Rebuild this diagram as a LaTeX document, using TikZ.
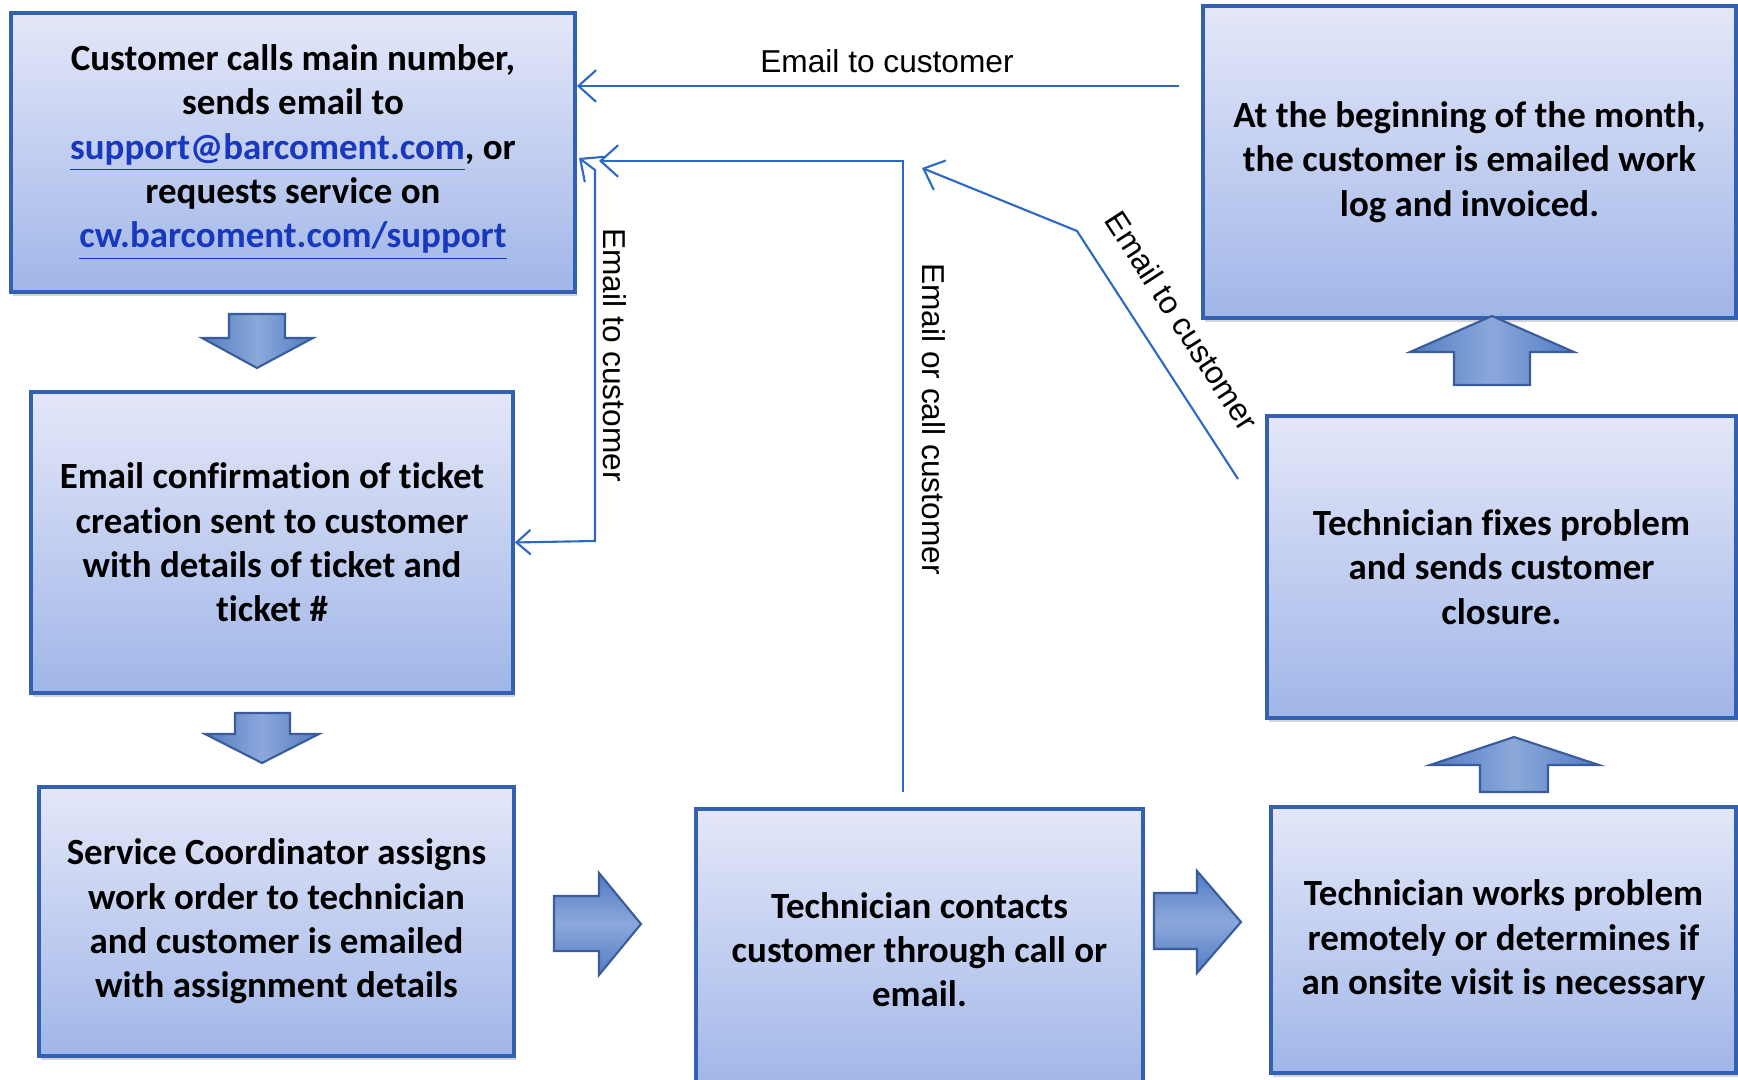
\documentclass[tikz,border=0pt]{standalone}
\usepackage{fontspec}
\setmainfont{Carlito}[RawFeature={-liga;-clig;-dlig;-calt}]
\newfontfamily\arial{Liberation Sans}
\usetikzlibrary{arrows.meta,shadows}
\definecolor{boxedge}{RGB}{52,96,178}
\definecolor{boxtop}{RGB}{228,231,248}
\definecolor{boxbottom}{RGB}{160,182,232}
\definecolor{linkblue}{RGB}{24,56,190}
\definecolor{flowline}{RGB}{44,104,196}
\definecolor{fatfill}{RGB}{80,124,194}
\definecolor{fatlight}{RGB}{140,168,218}
\definecolor{fatedge}{RGB}{58,92,156}

\newcommand{\weblink}[1]{{\color{linkblue}\underline{#1}}}

\tikzset{
  stepbox/.style={rectangle, draw=boxedge, line width=1pt, top color=boxtop, bottom color=boxbottom,
    align=center, inner sep=0pt, font=\fontsize{10.5}{12.6}\selectfont\bfseries,
    drop shadow={shadow xshift=0.6pt, shadow yshift=-1pt, opacity=0.35}},
  msg/.style={draw=flowline, line width=0.6pt, -{Straight Barb[length=5pt,width=9pt]}},
  msglabel/.style={font=\arial\fontsize{9}{11}\selectfont, inner sep=0pt},
  fatdown/.style={draw=fatedge, line width=0.6pt, left color=fatfill, right color=fatfill, middle color=fatlight},
  fatright/.style={draw=fatedge, line width=0.6pt, top color=fatfill, bottom color=fatfill, middle color=fatlight}
}

\begin{document}
\begin{tikzpicture}[x=0.01cm, y=-0.01cm]
\useasboundingbox (0,0) rectangle (1738,1080);

% process steps
\node[stepbox, minimum width=5.64cm, minimum height=2.79cm] (call) at (293,152.5)
  {Customer calls main number,\\ sends email to\\ \weblink{support@barcoment.com}, or\\ requests service on\\ \weblink{cw.barcoment.com/support}};
\node[stepbox, minimum width=4.82cm, minimum height=3.01cm] (confirm) at (272,542.5)
  {Email confirmation of ticket\\ creation sent to customer\\ with details of ticket and\\ ticket \#};
\node[stepbox, minimum width=4.75cm, minimum height=2.69cm] (assign) at (276.5,921.5)
  {Service Coordinator assigns\\ work order to technician\\ and customer is emailed\\ with assignment details};
\node[stepbox, minimum width=4.47cm, minimum height=2.81cm] (contact) at (919.5,949.5)
  {Technician contacts\\ customer through call or\\ email.};
\node[stepbox, minimum width=4.65cm, minimum height=2.66cm] (works) at (1503.5,940)
  {Technician works problem\\ remotely or determines if\\ an onsite visit is necessary};
\node[stepbox, minimum width=4.69cm, minimum height=3.02cm] (fixes) at (1501.5,567)
  {Technician fixes problem\\ and sends customer\\ closure.};
\node[stepbox, minimum width=5.33cm, minimum height=3.12cm] (bill) at (1469.5,162)
  {At the beginning of the month,\\ the customer is emailed work\\ log and invoiced.};

% block arrows between the steps
\draw[fatdown] (229,314) -- (285,314) -- (285,338) -- (313,338) -- (257,368) -- (202,338) -- (229,338) -- cycle;
\draw[fatdown] (235,713) -- (290,713) -- (290,734) -- (319,734) -- (262,763) -- (205,734) -- (235,734) -- cycle;
\draw[fatright] (554,896) -- (599,896) -- (599,873) -- (641,924) -- (599,975) -- (599,951) -- (554,951) -- cycle;
\draw[fatright] (1154,893) -- (1197,893) -- (1197,871) -- (1241,922) -- (1197,973) -- (1197,949) -- (1154,949) -- cycle;
\draw[fatdown] (1480,792) -- (1480,765) -- (1430,765) -- (1514,737) -- (1599,765) -- (1548,765) -- (1548,792) -- cycle;
\draw[fatdown] (1454,385) -- (1454,352) -- (1410,352) -- (1492,316) -- (1574,352) -- (1530,352) -- (1530,385) -- cycle;

% messages back to the customer
\coordinate (billout) at (1179,86);
\coordinate (contactout) at (903,792);
\coordinate (fixout) at (1238,479);

\draw[msg] (billout) -- (call.east |- billout);
\node[msglabel] (billlabel) at (887,61) {Email to customer};

\draw[msg, {Straight Barb[length=4pt,width=7pt]}-{Straight Barb[length=5pt,width=9pt]}]
  (confirm.east) -- (595,541) -- (595,170) -- (579,158);
\node[msglabel, rotate=-90] (confirmlabel) at (615,355) {Email to customer};

\draw[msg] (contactout) |- (599,161);
\node[msglabel, rotate=-90] (contactlabel) at (934,419) {Email or call customer};

\draw[msg] (fixout) -- (1077,231) -- (922,168);
\node[msglabel, rotate=-57] (fixlabel) at (1182,321) {Email to customer};
\end{tikzpicture}
\end{document}
